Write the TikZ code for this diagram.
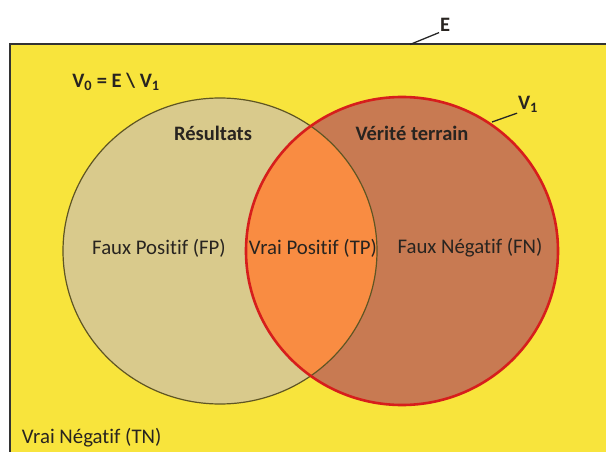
\documentclass[tikz,border=0pt]{standalone}
\usepackage{fontspec}
\setmainfont{Carlito}[Ligatures=NoCommon]
\definecolor{fondjaune}{RGB}{248,228,60}
\definecolor{resfill}{RGB}{217,202,140}
\definecolor{resline}{RGB}{95,85,35}
\definecolor{vtfill}{RGB}{200,122,82}
\definecolor{tpfill}{RGB}{249,140,66}
\definecolor{vtline}{RGB}{214,30,28}
\definecolor{texte}{RGB}{40,36,32}
\tikzset{
	lbl/.style={inner sep=0.75pt, text=texte, font=\fontsize{20.8}{22}\selectfont},
	titre/.style={lbl, font=\fontsize{20.5}{22}\selectfont\bfseries},
	renvoi/.style={draw=black!85, line width=1.3pt}
}
\begin{document}
\begin{tikzpicture}[x=1pt,y=1pt,yscale=-1,xscale=1]
	\useasboundingbox (0,0) rectangle (606,452);
	\clip (0,0) rectangle (606,452);

	%Shape: Rectangle E
	\draw [draw=black!80, line width=2pt, fill=fondjaune] (10,44) rectangle (640,480) ;
	\coordinate (pE) at (410,44.5);

	%Shape: Circle Resultats
	\fill [resfill] (220,251) ellipse (157 and 153) ;
	%Shape: Circle Verite terrain
	\fill [vtfill] (402,251) ellipse (156 and 154) ;
	%Shape: Intersection
	\begin{scope}
		\clip (220,251) ellipse (157 and 153) ;
		\fill [tpfill] (402,251) ellipse (156 and 154) ;
	\end{scope}
	\draw [resline, line width=1.2pt] (220,251) ellipse (157 and 153) ;
	\draw [vtline, line width=2.6pt] (402,251) ellipse (156 and 154) ;
	\coordinate (pV) at (492,122);

	% Text Node
	\node [titre] (e) at (445,25) {E};
	% Text Node
	\node [titre] (v1) at (528,104) {V\textsubscript{1}};
	% Text Node
	\node [titre] (v0) at (116,82) {V\textsubscript{0} = E \textbackslash{} V\textsubscript{1}};
	% Text Node
	\node [titre] (res) at (213,133) {Résultats};
	% Text Node
	\node [titre] (vt) at (412,133) {Vérité terrain};
	% Text Node
	\node [lbl] (fp) at (159,248) {Faux Positif (FP)};
	% Text Node
	\node [lbl] (tp) at (313,248) {Vrai Positif (TP)};
	% Text Node
	\node [lbl] (fn) at (470,248) {Faux Négatif (FN)};
	% Text Node
	\node [lbl, anchor=west] (tn) at (21,438) {Vrai Négatif (TN)};

	%Leader lines
	\draw [renvoi] (pE) -- (e.south west) ;
	\draw [renvoi] (pV) -- (v1.south west) ;

\end{tikzpicture}
\end{document}
